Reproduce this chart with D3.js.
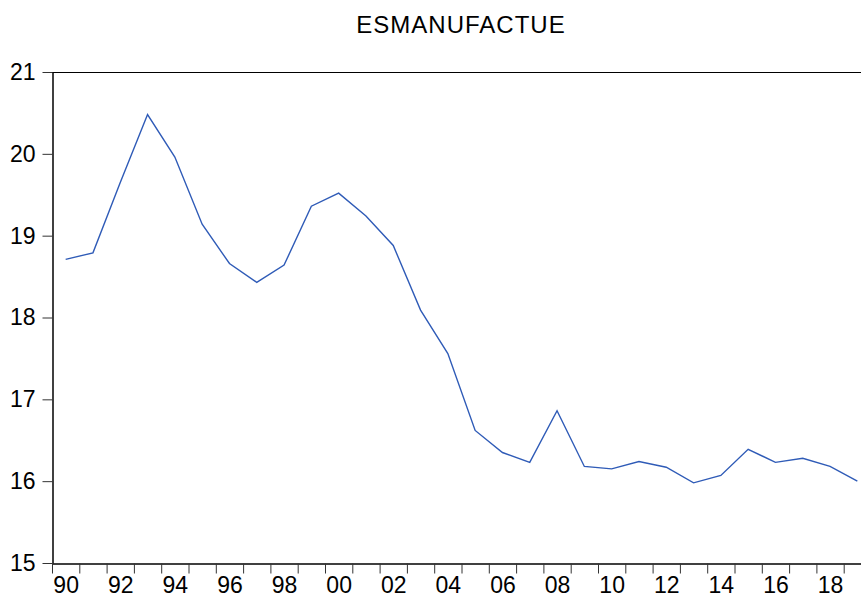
<!DOCTYPE html>
<html>
<head>
<meta charset="utf-8">
<script src="https://cdn.jsdelivr.net/npm/d3@7"></script>
<style>
  html, body { margin: 0; padding: 0; background: #fff; }
  svg { display: block; }
  .tick text { font-family: "Liberation Sans", Arial, sans-serif; fill: #000; }
</style>
</head>
<body>
<div id="chart"></div>
<script>
// data
const title = 'ESMANUFACTUE';
const years = [1990, 1991, 1992, 1993, 1994, 1995, 1996, 1997, 1998, 1999,
               2000, 2001, 2002, 2003, 2004, 2005, 2006, 2007, 2008, 2009,
               2010, 2011, 2012, 2013, 2014, 2015, 2016, 2017, 2018, 2019];
const values = [18.71, 18.79, 19.65, 20.48, 19.96, 19.14, 18.66, 18.43, 18.64, 19.36,
                19.52, 19.24, 18.88, 18.09, 17.56, 16.62, 16.35, 16.23, 16.86, 16.18,
                16.15, 16.24, 16.17, 15.98, 16.07, 16.39, 16.23, 16.28, 16.18, 16.00];
const yTicks = [15, 16, 17, 18, 19, 20, 21];

const W = 861, H = 599;
const margin = { top: 72, left: 52, bottom: 36 };
const plotRight = 871;            // frame runs past the right edge of the picture

const svg = d3.select('#chart').append('svg')
  .attr('width', W).attr('height', H);

const x = d3.scaleLinear()
  .domain([years[0], years[years.length - 1] + 1])
  .range([margin.left, plotRight]);
const y = d3.scaleLinear()
  .domain([15, 21])
  .range([H - margin.bottom, margin.top]);

// ── frame ──
svg.append('line')
  .attr('x1', x.range()[0]).attr('x2', x.range()[1])
  .attr('y1', y(21) + 0.5).attr('y2', y(21) + 0.5)
  .attr('stroke', '#000').attr('stroke-width', 1);
svg.append('line')
  .attr('x1', plotRight - 0.5).attr('x2', plotRight - 0.5)
  .attr('y1', y(21)).attr('y2', y(15))
  .attr('stroke', '#000');

// ── y axis ──
const yAxis = svg.append('g')
  .attr('transform', `translate(${margin.left + 0.5},0)`)
  .call(d3.axisLeft(y).tickValues(yTicks).tickFormat(d3.format('d'))
    .tickSize(10).tickPadding(7).tickSizeOuter(0));
yAxis.selectAll('text').style('font-size', '23px');
yAxis.selectAll('.tick line').attr('stroke', '#333');
yAxis.select('.domain').attr('stroke', '#000').attr('stroke-width', 1.5);

// ── x axis: year-boundary ticks, labels centred on even years ──
const xAxis = svg.append('g')
  .attr('transform', `translate(0,${y(15) + 0.5})`)
  .call(d3.axisBottom(x).tickValues(d3.range(years[0], years[years.length - 1] + 2))
    .tickSize(10).tickSizeOuter(0).tickFormat(''));
xAxis.selectAll('.tick line').attr('stroke', '#333');
xAxis.select('.domain').attr('stroke', '#000').attr('stroke-width', 1.5);

const labelYears = years.filter(d => d % 2 === 0);
const xLabels = svg.append('g')
  .attr('transform', `translate(0,${y(15)})`)
  .call(d3.axisBottom(x).tickValues(labelYears.map(d => d + 0.5))
    .tickSize(0).tickPadding(14)
    .tickFormat(d => String(Math.floor(d) % 100).padStart(2, '0')));
xLabels.select('.domain').remove();
xLabels.selectAll('text').style('font-size', '23px');

// ── series ──
const line = d3.line()
  .x((d, i) => x(years[i] + 0.5))
  .y(d => y(d));
svg.append('path')
  .datum(values)
  .attr('d', line)
  .attr('fill', 'none')
  .attr('stroke', '#2f5bb7')
  .attr('stroke-width', 1.4)
  .attr('stroke-linejoin', 'miter');

// ── title ──
svg.append('text')
  .attr('x', 461).attr('y', 33)
  .attr('text-anchor', 'middle')
  .style('font-family', '"Liberation Sans", Arial, sans-serif')
  .style('font-size', '24px')
  .style('letter-spacing', '1px')
  .text(title);
</script>
</body>
</html>
